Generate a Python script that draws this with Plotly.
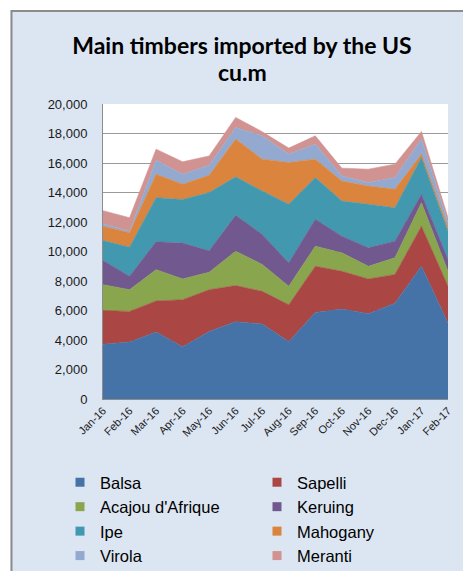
import plotly.graph_objects as go

# months on the x axis
months = ["Jan-16", "Feb-16", "Mar-16", "Apr-16", "May-16", "Jun-16", "Jul-16",
          "Aug-16", "Sep-16", "Oct-16", "Nov-16", "Dec-16", "Jan-17", "Feb-17"]

# imports in cu.m
balsa = [3720, 3860, 4540, 3540, 4580, 5240, 5080, 3900, 5870, 6100, 5780, 6500, 9000, 5150]
sapelli = [2280, 2080, 2110, 3190, 2830, 2450, 2220, 2490, 3130, 2560, 2360, 1940, 2720, 2490]
acajou = [1750, 1470, 2120, 1410, 1180, 2330, 1820, 1250, 1360, 1250, 860, 1130, 1590, 1020]
keruing = [1640, 910, 1890, 2430, 1460, 2430, 2040, 1590, 1820, 1130, 1250, 1130, 570, 800]
ipe = [1360, 1970, 2990, 2950, 3950, 2610, 2940, 3970, 2830, 2380, 2950, 2270, 2490, 1920]
mahogany = [970, 980, 1590, 1040, 1170, 2560, 2160, 2830, 1250, 1360, 1240, 1250, 230, 230]
virola = [160, 110, 950, 680, 680, 790, 1580, 570, 1020, 340, 230, 790, 1020, 340]
meranti = [890, 910, 750, 840, 630, 680, 280, 410, 560, 530, 910, 910, 520, 340]

series_names = ["Balsa", "Sapelli", "Acajou d'Afrique", "Keruing",
                "Ipe", "Mahogany", "Virola", "Meranti"]
series_values = [balsa, sapelli, acajou, keruing, ipe, mahogany, virola, meranti]
colors = ["#4572A7", "#AA4643", "#89A54E", "#71588F",
          "#4198AF", "#DB843D", "#93A9CF", "#D19392"]

# the page puts the figure 8px in from the top-left corner
OFF = 8
W, H = 471, 571
L, T = 103 - OFF, 104 - OFF
R = W - (448 - OFF)
B = H - (399 - OFF)
pw, ph = W - L - R, H - T - B


def px_x(p):
    return (p - OFF - L) / pw


def px_y(p):
    return (H - B - (p - OFF)) / ph


fig = go.Figure()
for name, vals, col in zip(series_names, series_values, colors):
    fig.add_trace(go.Scatter(
        x=months, y=vals, name=name, stackgroup="one",
        mode="lines", line=dict(width=0.6, color=col),
        fillcolor=col, hoverinfo="x+y+name", showlegend=False,
    ))

# legend entries with small square keys, in two columns
for i, (name, col) in enumerate(zip(series_names, colors)):
    fig.add_trace(go.Scatter(
        x=[None], y=[None], mode="markers", name=name,
        marker=dict(symbol="square", size=9, color=col),
        legend="legend" if i % 2 == 0 else "legend2",
    ))

# chart area frame (gray) with white strip outside it
shapes = [
    dict(type="rect", xref="paper", yref="paper",
         x0=px_x(-5), x1=px_x(W + 20), y0=px_y(10), y1=px_y(-5),
         fillcolor="white", line=dict(width=0), layer="above"),
    dict(type="rect", xref="paper", yref="paper",
         x0=px_x(-5), x1=px_x(10.5), y0=px_y(H + 20), y1=px_y(-5),
         fillcolor="white", line=dict(width=0), layer="above"),
    dict(type="line", xref="paper", yref="paper",
         x0=px_x(11), x1=px_x(W + 20), y0=px_y(11), y1=px_y(11),
         line=dict(color="#8c8c8c", width=2), layer="above"),
    dict(type="line", xref="paper", yref="paper",
         x0=px_x(11.5), x1=px_x(11.5), y0=px_y(10), y1=px_y(H + 20),
         line=dict(color="#8c8c8c", width=2), layer="above"),
]

legend_style = dict(
    orientation="v", xanchor="left", yanchor="top",
    xref="container", yref="container",
    font=dict(size=16.5, color="black"), bgcolor="rgba(0,0,0,0)",
    traceorder="normal", itemwidth=30, tracegroupgap=0,
)

fig.update_layout(
    width=W, height=H,
    margin=dict(l=L, r=R, t=T, b=B, autoexpand=False),
    paper_bgcolor="#DCE6F2",
    plot_bgcolor="white",
    font=dict(family="Liberation Sans, Arial, sans-serif", color="#1a1a1a"),
    title=dict(
        text="Main timbers imported by the US",
        x=(242 - OFF) / W, xanchor="center", xref="container",
        y=1 - (46 - OFF) / H, yanchor="middle", yref="container",
        font=dict(family="Lato, Open Sans, sans-serif", size=23, color="black", weight="bold"),
    ),
    annotations=[dict(
        text="cu.m", showarrow=False,
        x=(242 - OFF) / W, xref="paper", xanchor="center",
        y=1 - (72 - OFF) / H, yref="paper", yanchor="middle",
        font=dict(family="Lato, Open Sans, sans-serif", size=23, color="black", weight="bold"),
    )],
    xaxis=dict(
        type="category", range=[0, len(months) - 1],
        tickangle=-45, tickfont=dict(size=11),
        showgrid=False, showline=True, linecolor="#8c8c8c", linewidth=1,
        ticks="",
    ),
    yaxis=dict(
        range=[0, 20000], dtick=2000, tickformat=",",
        tickfont=dict(size=13), showgrid=True, gridcolor="#9a9a9a", gridwidth=1,
        showline=True, linecolor="#8c8c8c", linewidth=1, ticks="", zeroline=False,
        ticklabelstandoff=12,
    ),
    legend=dict(legend_style, x=(60 - OFF) / W, y=1 - (465 - OFF) / H),
    legend2=dict(legend_style, x=(257 - OFF) / W, y=1 - (465 - OFF) / H),
    showlegend=True,
    shapes=shapes,
)

# annotation given in container fractions: convert to paper coordinates
ann = fig.layout.annotations[0]
ann.x = (ann.x * W - L) / pw
ann.y = (ann.y * H - B) / ph

fig.write_html("out.html")
